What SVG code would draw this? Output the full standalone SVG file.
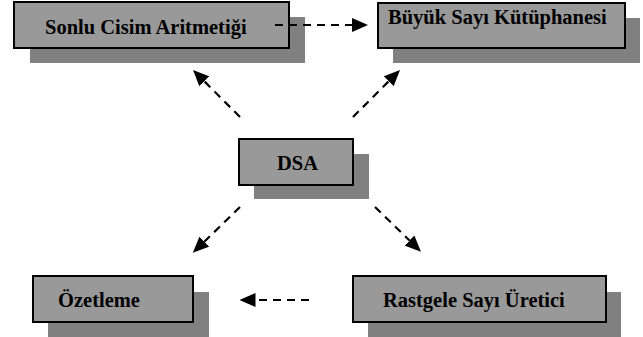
<svg xmlns="http://www.w3.org/2000/svg" width="643" height="337" viewBox="0 0 643 337">
<style>
.shadow{fill:#808080;stroke:none}
.box{fill:#999999;stroke:#000;stroke-width:2}
.lbl{font-family:"Liberation Serif","Times New Roman",serif;font-weight:bold;font-size:20.5px;fill:#000}
.conn{stroke:#000;stroke-width:2.2;stroke-dasharray:8 6;fill:none}
</style>
<defs>
<marker id="ah" viewBox="0 0 16 14" refX="0" refY="7" markerWidth="16" markerHeight="14" markerUnits="userSpaceOnUse" orient="auto">
<path d="M0,0 L16,7 L0,14 Z" fill="#000"/>
</marker>
</defs>
<rect width="643" height="337" fill="#fff"/>
<g id="sonlu">
<rect class="shadow" x="30" y="17" width="275" height="46"/>
<rect class="box" x="14" y="2" width="275" height="46"/>
<text class="lbl" x="45" y="34">Sonlu Cisim Aritmetiği</text>
</g>
<g id="buyuk">
<rect class="shadow" x="393" y="18" width="247" height="45"/>
<rect class="box" x="378" y="3" width="247" height="45"/>
<text class="lbl" x="388" y="24">Büyük Sayı Kütüphanesi</text>
</g>
<g id="dsa">
<rect class="shadow" x="254" y="154" width="115" height="45"/>
<rect class="box" x="239" y="139" width="114" height="46"/>
<text class="lbl" x="277" y="170">DSA</text>
</g>
<g id="ozetleme">
<rect class="shadow" x="48" y="292" width="161" height="45"/>
<rect class="box" x="33" y="276" width="160" height="46"/>
<text class="lbl" x="58" y="307">Özetleme</text>
</g>
<g id="rastgele">
<rect class="shadow" x="368" y="292" width="253" height="45"/>
<rect class="box" x="353" y="276" width="253" height="46"/>
<text class="lbl" x="383" y="307">Rastgele Sayı Üretici</text>
</g>
<g id="connectors">
<line class="conn" x1="275" y1="25" x2="352" y2="25" marker-end="url(#ah)"/>
<line class="conn" x1="309" y1="300" x2="255.5" y2="300" marker-end="url(#ah)"/>
<line class="conn" x1="240" y1="117" x2="204.3" y2="81.3" marker-end="url(#ah)"/>
<line class="conn" x1="353" y1="117" x2="388.7" y2="81.3" marker-end="url(#ah)"/>
<line class="conn" x1="240" y1="207" x2="204.3" y2="241.7" marker-end="url(#ah)"/>
<line class="conn" x1="375" y1="207" x2="409.5" y2="240.5" marker-end="url(#ah)"/>
</g>
</svg>
